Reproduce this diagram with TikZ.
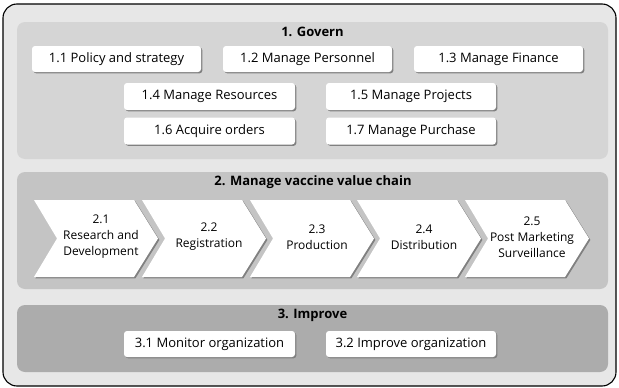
\documentclass[tikz,border=0pt]{standalone}
\usepackage{fontspec}
\setmainfont{Open Sans}
\usetikzlibrary{shadows}
\definecolor{outerc}{HTML}{E7E7E7}
\definecolor{ponec}{HTML}{D5D5D5}
\definecolor{ptwoc}{HTML}{C4C4C4}
\definecolor{pthreec}{HTML}{ACACAC}
\definecolor{shadowc}{HTML}{808080}
\newcommand{\mychevron}[3]{%
  \path[chev] (#1,200) -- (#1+100,200) -- (#1+124,238.5) -- (#1+100,277) -- (#1,277) -- (#1+23,238.5) -- cycle;
  \node[chevtxt] (#2) at (#1+67,237) {#3};}
\begin{document}
\begin{tikzpicture}[x=1pt,y=-1pt,
  frame/.style={draw=black, line width=1.1pt, fill=outerc, rounded corners=14pt},
  panel/.style={rounded corners=8pt},
  sbox/.style={fill=white, rounded corners=3pt,
    drop shadow={shadow xshift=1.4pt, shadow yshift=-1.4pt, fill=shadowc, opacity=1},
    minimum width=169pt, minimum height=26pt, inner sep=0pt,
    font=\fontsize{13}{15}\selectfont},
  ttl/.style={font=\bfseries\fontsize{13}{15}\selectfont, inner sep=0pt},
  chev/.style={fill=white,
    drop shadow={shadow xshift=1.4pt, shadow yshift=-1.4pt, fill=shadowc, opacity=1}},
  chevtxt/.style={align=center, inner sep=0pt, font=\fontsize{12}{16}\selectfont}
]
\useasboundingbox (0,0) rectangle (619,388);
\path[frame] (3,4) rectangle (616,386);
% panels
\path[panel, fill=ponec] (17,22) rectangle (608,159);
\path[panel, fill=ptwoc] (17,172) rectangle (608,289);
\path[panel, fill=pthreec] (17,305) rectangle (608,372);
% titles
\node[ttl] (t1) at (312.5,32) {1. Govern};
\node[ttl] (t2) at (313,182) {2. Manage vaccine value chain};
\node[ttl] (t3) at (312.5,315) {3. Improve};
% govern boxes
\node[sbox] (b11) at (116.5,59) {1.1 Policy and strategy};
\node[sbox] (b12) at (307.5,59) {1.2 Manage Personnel};
\node[sbox] (b13) at (498.5,59) {1.3 Manage Finance};
\node[sbox, minimum width=171pt, minimum height=27pt] (b14) at (209.5,96.5) {1.4 Manage Resources};
\node[sbox, minimum width=170pt, minimum height=27pt] (b15) at (411,96.5) {1.5 Manage Projects};
\node[sbox, minimum width=171pt, minimum height=27pt] (b16) at (209.5,131) {1.6 Acquire orders};
\node[sbox, minimum width=170pt, minimum height=27pt] (b17) at (411,131) {1.7 Manage Purchase};
% chevrons
\mychevron{34}{c21}{2.1\\Research and\\Development}
\mychevron{142}{c22}{2.2\\Registration}
\mychevron{250}{c23}{2.3\\Production}
\mychevron{357}{c24}{2.4\\Distribution}
\mychevron{465}{c25}{2.5\\Post Marketing\\Surveillance}
% improve boxes
\node[sbox, minimum width=171pt] (b31) at (209.5,344) {3.1 Monitor organization};
\node[sbox, minimum width=170pt] (b32) at (411,344) {3.2 Improve organization};
\end{tikzpicture}
\end{document}
